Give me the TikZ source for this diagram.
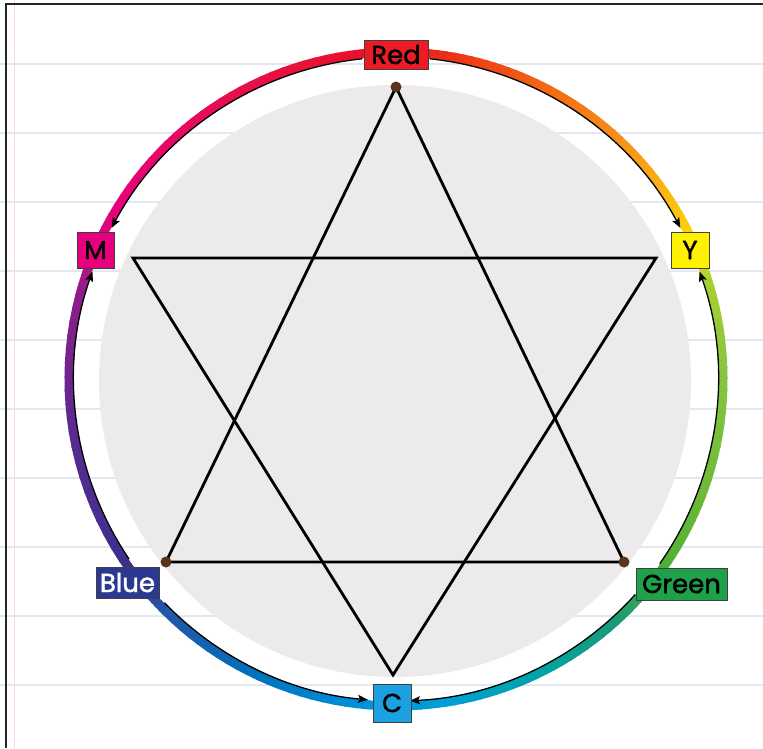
\documentclass[tikz,border=0pt]{standalone}
\usepackage{fontspec}
\setmainfont{Poppins}
\newfontfamily\lblfont{Poppins}[FakeBold=1.6]
\usetikzlibrary{arrows.meta,calc}
\definecolor{cR}{HTML}{E8141F}
\definecolor{cRb}{HTML}{E8103D}
\definecolor{cCr}{HTML}{E60B5E}
\definecolor{cMg}{HTML}{E6007E}
\definecolor{cMgb}{HTML}{C0127F}
\definecolor{cVi}{HTML}{8E1D8B}
\definecolor{cPu}{HTML}{5B2A90}
\definecolor{cPub}{HTML}{3A2F8E}
\definecolor{cDB}{HTML}{2E3192}
\definecolor{cBb}{HTML}{2456A8}
\definecolor{cBc}{HTML}{0072BC}
\definecolor{cCy}{HTML}{0093DD}
\definecolor{cCyb}{HTML}{00A0D0}
\definecolor{cTe}{HTML}{00A3A8}
\definecolor{cTeb}{HTML}{1A9A78}
\definecolor{cGr}{HTML}{50B035}
\definecolor{cGrb}{HTML}{6DBB38}
\definecolor{cYG}{HTML}{86C440}
\definecolor{cYGb}{HTML}{A8D030}
\definecolor{cYe}{HTML}{FFE000}
\definecolor{cYo}{HTML}{FDC60C}
\definecolor{cOr}{HTML}{F7941D}
\definecolor{cOrb}{HTML}{F26B14}
\definecolor{cOR}{HTML}{EE4316}
\definecolor{boxRed}{HTML}{ED1C24}
\definecolor{boxY}{HTML}{FFF200}
\definecolor{boxGreen}{HTML}{1FA04A}
\definecolor{boxC}{HTML}{1BA1E2}
\definecolor{boxBlue}{HTML}{2B3990}
\definecolor{boxM}{HTML}{E6007E}
\definecolor{paperline}{HTML}{E2E7F1}
\definecolor{margin}{HTML}{FAD6DD}
\definecolor{disk}{HTML}{ECEAEB}
\definecolor{dotc}{HTML}{5B3519}
\newcommand\ringseg[4]{%
  \foreach \i in {0,...,9}{%
    \pgfmathsetmacro\aa{#1+(#2-#1)*\i/10}%
    \pgfmathsetmacro\bb{#1+(#2-#1)*(\i+1)/10+0.4}%
    \pgfmathtruncatemacro\pp{95-\i*10}%
    \draw[line width=9pt,color=#3!\pp!#4] ($(O)+(\aa:327pt)$) arc[start angle=\aa,end angle=\bb,radius=327pt];
  }}
\tikzset{
  lbl/.style={draw=black!75,line width=0.8pt,inner sep=0pt,text=black,font=\lblfont\fontsize{26}{30}\selectfont},
  ringarrow/.style={black,line width=1.3pt,-{Stealth[length=10pt,width=8pt,inset=2pt]}},
  starline/.style={black,line width=2.8pt,line join=miter},
}
\begin{document}
\begin{tikzpicture}[x=1pt,y=1pt]
\useasboundingbox[fill=white] (0,0) rectangle (763,748);
% paper lines
\foreach \yy in {684,615,546,477,408,339,270,201,132,63}{
  \draw[paperline,line width=1.6pt] (0,\yy) -- (763,\yy);
}
\draw[margin,line width=1pt] (14,0) -- (14,748);
\draw[black!85,line width=2.6pt] (6,0) -- (6,744) -- (763,744);
% disk
\coordinate (O) at (396,369);
\fill[disk] (395,367) circle[radius=296pt];
% colour ring
\ringseg{-270}{-250}{cR}{cRb}
\ringseg{-250}{-230}{cRb}{cCr}
\ringseg{-230}{-210}{cCr}{cMg}
\ringseg{-210}{-202}{cMg}{cMgb}
\ringseg{-202}{-195}{cMgb}{cVi}
\ringseg{-195}{-171}{cVi}{cPu}
\ringseg{-171}{-144}{cPu}{cPub}
\ringseg{-144}{-135}{cPub}{cBb}
\ringseg{-135}{-115}{cBb}{cBc}
\ringseg{-115}{-95}{cBc}{cCy}
\ringseg{-95}{-80}{cCy}{cCyb}
\ringseg{-80}{-65}{cCyb}{cTe}
\ringseg{-65}{-48}{cTe}{cTeb}
\ringseg{-48}{-34}{cTeb}{cGr}
\ringseg{-34}{-20}{cGr}{cGrb}
\ringseg{-20}{0}{cGrb}{cYG}
\ringseg{0}{18}{cYG}{cYGb}
\ringseg{18}{23}{cYGb}{cYe}
\ringseg{23}{30}{cYe}{cYo}
\ringseg{30}{45}{cYo}{cOr}
\ringseg{45}{62}{cOr}{cOrb}
\ringseg{62}{75}{cOrb}{cOR}
\ringseg{75}{90}{cOR}{cR}
% arc arrows
\coordinate (rm) at ($(O)+(96:322pt)$);
\coordinate (ry) at ($(O)+(84:322pt)$);
\coordinate (gy) at ($(O)+(-35:322pt)$);
\coordinate (gc) at ($(O)+(-42:322pt)$);
\coordinate (bc) at ($(O)+(224:322pt)$);
\coordinate (bm) at ($(O)+(214:322pt)$);
\draw[ringarrow] (rm) arc[start angle=96,end angle=152,radius=322pt];
\draw[ringarrow] (ry) arc[start angle=84,end angle=28,radius=322pt];
\draw[ringarrow] (gy) arc[start angle=-35,end angle=19.5,radius=322pt];
\draw[ringarrow] (gc) arc[start angle=-42,end angle=-87.5,radius=322pt];
\draw[ringarrow] (bc) arc[start angle=224,end angle=265,radius=322pt];
\draw[ringarrow] (bm) arc[start angle=214,end angle=160.5,radius=322pt];
% star
\coordinate (A) at (396,661);
\coordinate (B) at (166,186);
\coordinate (Cc) at (624,186);
\coordinate (D) at (133,490);
\coordinate (E) at (656,490);
\coordinate (F) at (393,73);
\draw[starline] (A) -- (B) -- (Cc) -- cycle;
\draw[starline] (D) -- (E) -- (F) -- cycle;
\foreach \p in {A,B,Cc}{ \fill[dotc] (\p) circle[radius=5.5pt]; }
% labels
\node[lbl,fill=boxRed,minimum width=64pt,minimum height=29pt] (red) at (396,693.5) {Red};
\node[lbl,fill=boxY,minimum width=38pt,minimum height=36pt] (yel) at (690,498) {Y};
\node[lbl,fill=boxGreen,minimum width=91pt,minimum height=32pt] (grn) at (681.5,164) {Green};
\node[lbl,fill=boxC,minimum width=38pt,minimum height=38pt] (cyan) at (392,45) {C};
\node[lbl,fill=boxBlue,text=white,minimum width=63pt,minimum height=31pt] (blu) at (127.5,165.5) {Blue};
\node[lbl,fill=boxM,minimum width=37pt,minimum height=36pt] (mag) at (95.5,498) {M};
\end{tikzpicture}
\end{document}
